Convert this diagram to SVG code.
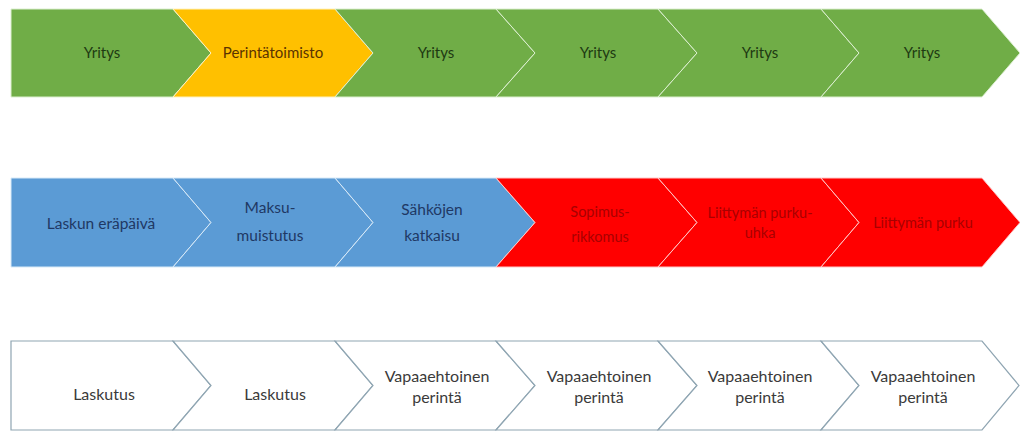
<svg xmlns="http://www.w3.org/2000/svg" width="1020" height="432" viewBox="0 0 1020 432">
<style>
text{font-family:Lato,"Open Sans","Liberation Sans",sans-serif;text-anchor:middle}
.g{fill:#70AD47;stroke:#dcefd0;stroke-width:1}
.y{fill:#FFC000;stroke:#fff2c0;stroke-width:1}
.b{fill:#5B9BD5;stroke:#d8eaf8;stroke-width:1}
.r{fill:#FF0000;stroke:#ffc8c8;stroke-width:1}
.w{fill:#ffffff;stroke:#8FA5B2;stroke-width:1.2}
.tg{fill:#1e3a12;font-size:15px}
.ty{fill:#5a3300;font-size:15px}
.tb{fill:#1f3864;font-size:15.5px}
.tr{fill:#a80000;font-size:14.5px}
.tw{fill:#3a3a3a;font-size:16px}
</style>
<g id="row1">
<g id="r1n1"><path class="g" d="M11,9 L173,9 L211,53 L173,97 L11,97 Z"/><text class="tg" x="102" y="58">Yritys</text></g>
<g id="r1n2"><path class="y" d="M173,9 L335,9 L373,53 L335,97 L173,97 L211,53 Z"/><text class="ty" x="273" y="58">Perintätoimisto</text></g>
<g id="r1n3"><path class="g" d="M335,9 L496,9 L535,53 L496,97 L335,97 L373,53 Z"/><text class="tg" x="436" y="58">Yritys</text></g>
<g id="r1n4"><path class="g" d="M496,9 L658,9 L697,53 L658,97 L496,97 L535,53 Z"/><text class="tg" x="598" y="58">Yritys</text></g>
<g id="r1n5"><path class="g" d="M658,9 L821,9 L859,53 L821,97 L658,97 L697,53 Z"/><text class="tg" x="760" y="58">Yritys</text></g>
<g id="r1n6"><path class="g" d="M821,9 L982,9 L1020,53 L982,97 L821,97 L859,53 Z"/><text class="tg" x="922" y="58">Yritys</text></g>
</g>
<g id="row2">
<g id="r2n1"><path class="b" d="M11,178 L173,178 L211,222.5 L173,267 L11,267 Z"/><text class="tb" x="101" y="229">Laskun eräpäivä</text></g>
<g id="r2n2"><path class="b" d="M173,178 L335,178 L373,222.5 L335,267 L173,267 L211,222.5 Z"/><text class="tb" x="270" y="213">Maksu-</text><text class="tb" x="270" y="241">muistutus</text></g>
<g id="r2n3"><path class="b" d="M335,178 L496,178 L535,222.5 L496,267 L335,267 L373,222.5 Z"/><text class="tb" x="432" y="215">Sähköjen</text><text class="tb" x="432" y="241">katkaisu</text></g>
<g id="r2n4"><path class="r" d="M496,178 L658,178 L697,222.5 L658,267 L496,267 L535,222.5 Z"/><text class="tr" x="600" y="217">Sopimus-</text><text class="tr" x="600" y="242">rikkomus</text></g>
<g id="r2n5"><path class="r" d="M658,178 L821,178 L859,222.5 L821,267 L658,267 L697,222.5 Z"/><text class="tr" x="760" y="218">Liittymän purku-</text><text class="tr" x="760" y="238">uhka</text></g>
<g id="r2n6"><path class="r" d="M821,178 L982,178 L1020,222.5 L982,267 L821,267 L859,222.5 Z"/><text class="tr" x="923" y="228">Liittymän purku</text></g>
</g>
<g id="row3">
<g id="r3n1"><path class="w" d="M11,341 L173,341 L211,385.5 L173,430 L11,430 Z"/><text class="tw" x="104" y="400">Laskutus</text></g>
<g id="r3n2"><path class="w" d="M173,341 L335,341 L373,385.5 L335,430 L173,430 L211,385.5 Z"/><text class="tw" x="275" y="400">Laskutus</text></g>
<g id="r3n3"><path class="w" d="M335,341 L496,341 L535,385.5 L496,430 L335,430 L373,385.5 Z"/><text class="tw" x="437" y="382">Vapaaehtoinen</text><text class="tw" x="437" y="403">perintä</text></g>
<g id="r3n4"><path class="w" d="M496,341 L658,341 L697,385.5 L658,430 L496,430 L535,385.5 Z"/><text class="tw" x="599" y="382">Vapaaehtoinen</text><text class="tw" x="599" y="403">perintä</text></g>
<g id="r3n5"><path class="w" d="M658,341 L821,341 L859,385.5 L821,430 L658,430 L697,385.5 Z"/><text class="tw" x="760" y="382">Vapaaehtoinen</text><text class="tw" x="760" y="403">perintä</text></g>
<g id="r3n6"><path class="w" d="M821,341 L982,341 L1019,385.5 L982,430 L821,430 L859,385.5 Z"/><text class="tw" x="923" y="382">Vapaaehtoinen</text><text class="tw" x="923" y="403">perintä</text></g>
</g>
</svg>
